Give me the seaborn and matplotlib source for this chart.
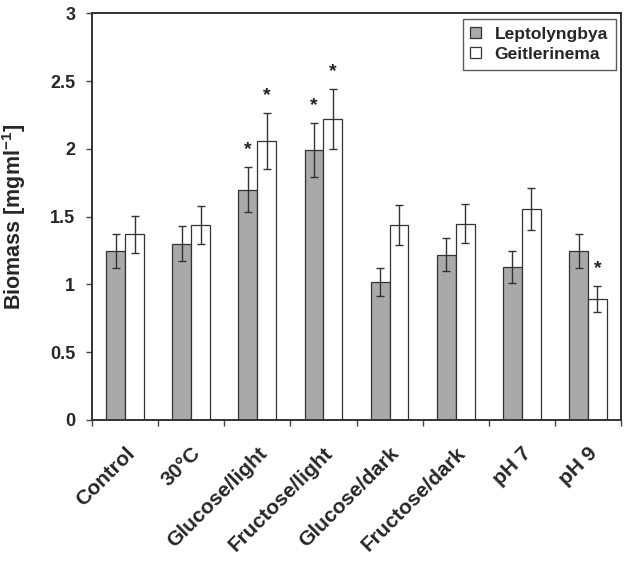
import matplotlib
matplotlib.use("Agg")
import matplotlib.pyplot as plt
import seaborn as sns
import pandas as pd
import numpy as np
from matplotlib.ticker import FixedLocator, FuncFormatter

categories = ["Control", "30°C", "Glucose/light", "Fructose/light",
              "Glucose/dark", "Fructose/dark", "pH 7", "pH 9"]
lepto_vals = [1.25, 1.30, 1.70, 1.99, 1.02, 1.22, 1.13, 1.25]
lepto_err = [0.125, 0.13, 0.167, 0.20, 0.105, 0.12, 0.118, 0.125]
geit_vals = [1.37, 1.44, 2.06, 2.22, 1.44, 1.45, 1.555, 0.893]
geit_err = [0.135, 0.14, 0.205, 0.22, 0.145, 0.146, 0.154, 0.093]
lepto_star = [False, False, True, True, False, False, False, False]
geit_star = [False, False, True, True, False, False, False, True]
series = ["Leptolyngbya", "Geitlerinema"]
yticks = [0, 0.5, 1, 1.5, 2, 2.5, 3]

sns.set_style("white")
plt.rcParams['font.family'] = ['Liberation Sans', 'DejaVu Sans']
plt.rcParams['mathtext.fontset'] = 'custom'
plt.rcParams['mathtext.bf'] = 'Liberation Sans:bold'
plt.rcParams['mathtext.rm'] = 'Liberation Sans:bold'

df = pd.DataFrame({
    "cond": categories * 2,
    "series": [series[0]] * len(categories) + [series[1]] * len(categories),
    "val": lepto_vals + geit_vals,
})

fig = plt.figure(figsize=(6.29, 5.69), dpi=100)
ax = fig.add_axes([0.1463, 0.2619, 0.9873 - 0.1463, 0.9763 - 0.2619])

width = 0.57
sns.barplot(data=df, x="cond", y="val", hue="series", order=categories,
            hue_order=series, palette=["#a9a9a9", "#ffffff"], width=width,
            edgecolor="#333333", linewidth=0.9, errorbar=None, ax=ax,
            saturation=1)

bw = width / 2
x = np.arange(len(categories))
for offs, vals, errs, stars in [(-bw / 2, lepto_vals, lepto_err, lepto_star),
                                (bw / 2, geit_vals, geit_err, geit_star)]:
    ax.errorbar(x + offs, vals, yerr=errs, fmt="none", ecolor="#333333",
                elinewidth=1.0, capsize=3.2, capthick=1.0, zorder=5)
    for xi, v, e, s in zip(x + offs, vals, errs, stars):
        if s:
            ax.text(xi, v + e + 0.13, "*", ha="center", va="center",
                    fontsize=14, fontweight="bold", color="#222222")

ax.set_xlim(-0.5, len(categories) - 0.5)
ax.set_ylim(0, 3)
ax.yaxis.set_major_locator(FixedLocator(yticks))
ax.yaxis.set_major_formatter(FuncFormatter(lambda v, p: f"{v:g}"))

ax.set_xticks(np.arange(len(categories) + 1) - 0.5)
ax.set_xticklabels([])
ax.set_xticks(x, minor=True)
ax.set_xticklabels(categories, minor=True, rotation=45, ha="right",
                   rotation_mode="anchor", fontsize=15, fontweight="bold")
ax.tick_params(axis="x", which="minor", length=0, pad=17)
ax.tick_params(axis="x", which="major", length=4, width=1.0, color="#444444",
               direction="out", bottom=True)
ax.tick_params(axis="y", which="major", length=4, width=1.0, color="#444444",
               direction="out", left=True, pad=8, labelsize=13)
for lab in ax.get_yticklabels():
    lab.set_fontweight("bold")

for sp in ax.spines.values():
    sp.set_color("#333333")
    sp.set_linewidth(1.4)
    sp.set_visible(True)

ax.set_xlabel("")
ax.set_ylabel(r"Biomass [mgml$^{\mathbf{-1}}$]", fontsize=15.5,
              fontweight="bold", labelpad=16)

leg = ax.legend(loc="upper right", frameon=True, fancybox=False,
                edgecolor="#333333", fontsize=12.5, handlelength=0.6,
                handleheight=0.6, handletextpad=0.8, borderpad=0.45,
                labelspacing=0.3, borderaxespad=0.3)
leg.get_frame().set_linewidth(1.0)
for t in leg.get_texts():
    t.set_fontweight("bold")

fig.savefig("out.png", dpi=100)
